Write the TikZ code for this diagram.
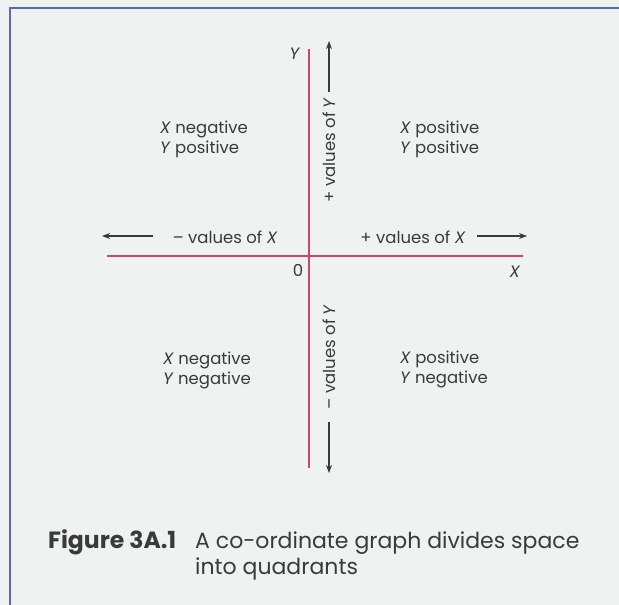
\documentclass[tikz,border=0pt]{standalone}
\usepackage{fontspec}
\setmainfont{Poppins}
\usetikzlibrary{arrows.meta}
\definecolor{bg}{HTML}{EEF2F0}
\definecolor{frame}{HTML}{5A6AB0}
\definecolor{axis}{HTML}{D04470}
\definecolor{ink}{HTML}{3A3A3A}
\tikzset{
  axisline/.style={draw=axis, line width=1.8pt},
  dirarrow/.style={draw=ink, line width=1.1pt, -{Stealth[length=8pt,width=6pt]}},
  lbl/.style={text=ink, font=\fontsize{16.5}{19.5}\selectfont, inner sep=0pt},
  quad/.style={lbl, align=left, anchor=north west},
  captext/.style={text=ink, font=\fontsize{22}{26}\selectfont, inner sep=0pt, anchor=base west, align=left}
}
\begin{document}
\begin{tikzpicture}[x=1pt,y=-1pt]
\useasboundingbox (0,0) rectangle (619,605);
\fill[bg] (0,0) rectangle (619,605);
\draw[frame, line width=1.5pt] (10,605) -- (10,8) -- (619,8);
% axes
\coordinate (yt) at (309,49);
\coordinate (yb) at (309,468);
\coordinate (xl) at (107,256);
\coordinate (xr) at (523,256);
\draw[axisline] (yt) -- (yb);
\draw[axisline] (xl) -- (xr);
% axis labels
\node[lbl] (Ylab) at (295,54) {\textit{Y}};
\node[lbl] (Xlab) at (515,272) {\textit{X}};
\node[lbl] (zero) at (298,270) {0};
% y direction labels
\node[lbl, rotate=90] (ypos) at (329,150) {+ values of \textit{Y}};
\node[lbl, rotate=90] (yneg) at (329,357) {– values of \textit{Y}};
\coordinate (yua) at (329,92);
\coordinate (yub) at (329,41);
\coordinate (yda) at (329,422);
\coordinate (ydb) at (329,473);
\draw[dirarrow] (yua) -- (yub);
\draw[dirarrow] (yda) -- (ydb);
% x direction labels
\node[lbl] (xneg) at (225,237) {– values of \textit{X}};
\node[lbl] (xpos) at (413,237) {+ values of \textit{X}};
\coordinate (xla) at (153,236);
\coordinate (xlb) at (102,236);
\coordinate (xra) at (477,236);
\coordinate (xrb) at (527,236);
\draw[dirarrow] (xla) -- (xlb);
\draw[dirarrow] (xra) -- (xrb);
% quadrants
\node[quad] (q2) at (160,121) {\textit{X} negative\\\textit{Y} positive};
\node[quad] (q1) at (400,121) {\textit{X} positive\\\textit{Y} positive};
\node[quad] (q3) at (163,352) {\textit{X} negative\\\textit{Y} negative};
\node[quad] (q4) at (400,351) {\textit{X} positive\\\textit{Y} negative};
% caption
\node[captext, font=\fontsize{23.5}{26}\selectfont\bfseries] (fig) at (48,548) {Figure 3A.1};
\node[captext] (captxt) at (195,574) {A co-ordinate graph divides space\\into quadrants};
\end{tikzpicture}
\end{document}
